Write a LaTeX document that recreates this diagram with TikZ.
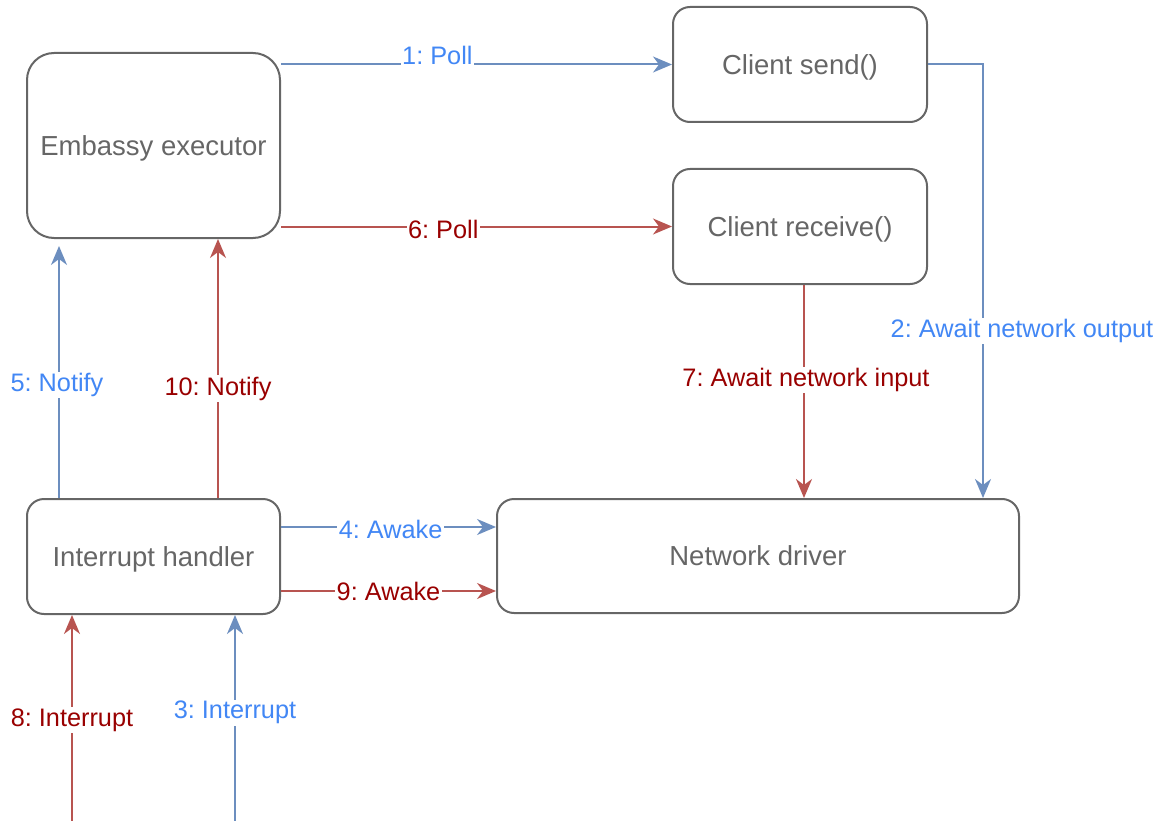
\documentclass[tikz,border=0pt]{standalone}
\usepackage{fontspec}
\setmainfont{Liberation Sans}
\usetikzlibrary{arrows.meta}
\definecolor{boxline}{HTML}{666666}
\definecolor{flowA}{HTML}{6C8EBF}
\definecolor{textA}{HTML}{4287F5}
\definecolor{flowB}{HTML}{B85450}
\definecolor{textB}{HTML}{990000}
\frenchspacing
\begin{document}
\begin{tikzpicture}[x=1pt,y=-1pt,
  stepbox/.style={rectangle, draw=boxline, line width=2pt, text=boxline,
    font=\fontsize{27.5}{33}\selectfont, inner sep=0pt, text depth=0pt},
  tip/.style={-{Stealth[length=19pt,width=16pt,inset=6pt]}},
  sendflow/.style={draw=flowA, line width=2pt, tip},
  recvflow/.style={draw=flowB, line width=2pt, tip},
  lblA/.style={fill=white, text=textA, inner sep=1.5pt,
    font=\fontsize{25.3}{30}\selectfont},
  lblB/.style={fill=white, text=textB, inner sep=1.5pt,
    font=\fontsize{25.3}{30}\selectfont}]
\useasboundingbox (0,0) rectangle (1164,821);

% boxes
\node[stepbox, rounded corners=27pt, minimum width=253pt, minimum height=185pt]
  (exec) at (153.5,145.5) {Embassy executor};
\node[stepbox, rounded corners=17pt, minimum width=254pt, minimum height=115pt]
  (csend) at (800,64.5) {Client send()};
\node[stepbox, rounded corners=17pt, minimum width=254pt, minimum height=115pt]
  (crecv) at (800,226.5) {Client receive()};
\node[stepbox, rounded corners=17pt, minimum width=253pt, minimum height=115pt]
  (handler) at (153.5,556.5) {Interrupt handler};
\node[stepbox, rounded corners=17pt, minimum width=522pt, minimum height=114pt]
  (driver) at (758,556) {Network driver};

% external interrupt sources
\coordinate (irqB) at (72,821);
\coordinate (irqA) at (235,821);

% send path (blue)
\draw[sendflow] (exec.east |- csend.west) --
  node[lblA, pos=0.40, yshift=9pt] {1: Poll} (csend.west);
\draw[sendflow] (csend.east) -| 
  node[lblA, pos=0.804, xshift=39pt, yshift=-3pt] {2: Await network output}
  ([xshift=-37pt]driver.north east);
\draw[sendflow] (irqA) --
  node[lblA, pos=0.536, yshift=-2pt] {3: Interrupt} (irqA |- handler.south);
\draw[sendflow] ([yshift=29.5pt]handler.east) --
  node[lblA, pos=0.51, yshift=-2pt] {4: Awake}
  ([yshift=29.5pt]handler.east -| driver.west);
\draw[sendflow, shorten >=7pt] ([xshift=-94.5pt]handler.north) --
  node[lblA, pos=0.444, xshift=-2pt, yshift=-2pt] {5: Notify}
  ([xshift=-94.5pt]handler.north |- exec.south);

% receive path (red)
\draw[recvflow] (exec.east |- crecv.west) --
  node[lblB, pos=0.415, yshift=-3pt] {6: Poll} (crecv.west);
\draw[recvflow] ([xshift=4pt]crecv.south) --
  node[lblB, pos=0.437, xshift=2pt, yshift=-2pt] {7: Await network input}
  ([xshift=4pt]crecv.south |- driver.north);
\draw[recvflow] (irqB) --
  node[lblB, pos=0.50, yshift=-2pt] {8: Interrupt} (irqB |- handler.south);
\draw[recvflow] ([yshift=-34.5pt]handler.east) --
  node[lblB, pos=0.50] {9: Awake}
  ([yshift=-34.5pt]handler.east -| driver.west);
\draw[recvflow] ([xshift=64.5pt]handler.north) --
  node[lblB, pos=0.43, yshift=-2pt] {10: Notify}
  ([xshift=64.5pt]handler.north |- exec.south);
\end{tikzpicture}
\end{document}
